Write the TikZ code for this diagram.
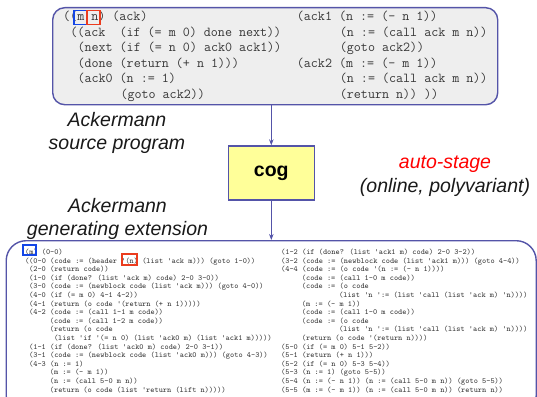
\documentclass[tikz,border=0pt]{standalone}
\usepackage{fontspec}
\newfontfamily\labfont{Liberation Sans}
\usetikzlibrary{arrows.meta}
\definecolor{edge}{RGB}{84,84,168}
\definecolor{srcfill}{RGB}{238,238,238}
\definecolor{codegray}{RGB}{55,55,55}
\definecolor{cogfill}{RGB}{255,255,153}
\definecolor{hiblue}{RGB}{20,70,230}
\definecolor{hired}{RGB}{235,60,30}
\definecolor{labtext}{RGB}{25,25,25}
\tikzset{
  box/.style={draw=edge, line width=1.4pt, inner sep=0pt},
  bigcode/.style={font=\ttfamily\fontsize{13.65}{15}\selectfont, text=codegray, anchor=base west, inner sep=0pt},
  smallcode/.style={font=\ttfamily\fontsize{7.886}{8.6}\selectfont, text=codegray, anchor=base west, inner sep=0pt},
  lab/.style={font=\labfont\itshape\fontsize{19.5}{23.7}\selectfont, text=labtext, align=center},
  arr/.style={draw=edge, line width=0.9pt, -{Stealth[length=6pt,width=4.5pt]}},
  hilite/.style={line width=1.2pt}
}
\begin{document}
\begin{tikzpicture}[x=1pt,y=-1pt]
\useasboundingbox (0,0) rectangle (537,396);
\begin{scope}
\clip (0,0) rectangle (537,396);
% source program box
\node[box, fill=srcfill, rounded corners=12pt, minimum width=445pt, minimum height=97pt, anchor=north west] (src) at (52,7) {};
% generating extension box
\node[box, fill=white, rounded corners=20pt, minimum width=530pt, minimum height=175pt, anchor=north west] (gen) at (5.5,240) {};
\end{scope}
% top code, left column
\def\cwA{7.166}
\foreach \k/\t [count=\i] in {
  0/{((m n) (ack)},
  1/{((ack\ \ (if (= m 0) done next))},
  2/{(next (if (= n 0) ack0 ack1))},
  2/{(done (return (+ n 1)))},
  2/{(ack0 (n := 1)},
  8/{(goto ack2))}}
  {\node[bigcode] (tl\i) at ({63+\k*\cwA},{21+(\i-1)*15.45}) {\t};}
% top code, right column
\foreach \k/\t [count=\i] in {
  0/{(ack1 (n := (- n 1))},
  6/{(n := (call ack m n))},
  6/{(goto ack2))},
  0/{(ack2 (m := (- m 1))},
  6/{(n := (call ack m n))},
  6/{(return n)) ))}}
  {\node[bigcode] (tr\i) at ({296.7+\k*\cwA},{21+(\i-1)*15.45}) {\t};}
% highlight boxes on the parameters
\node[draw=hiblue, hilite, minimum width=13pt, minimum height=14pt, inner sep=0pt] (pm) at (80.5,17.5) {};
\node[draw=hired, hilite, minimum width=13pt, minimum height=14pt, inner sep=0pt] (pn) at (93.5,17.5) {};
% cog
\node[box, fill=cogfill, minimum width=86pt, minimum height=54pt, font=\labfont\bfseries\fontsize{19.5}{22}\selectfont, text=black] (cog) at (271.3,173) {cog};
\draw[arr] (src.south -| cog.north) -- (cog.north);
\draw[arr] (cog.south) -- (cog.south |- gen.north);
% labels
\node[lab] (srclab) at (117,133) {Ackermann\\source program};
\node[lab] (genlab) at (117.5,219) {Ackermann\\generating extension};
\node[lab] (stage) at (445,176) {\textcolor{red}{auto-stage}\\(online, polyvariant)};
% bottom code, left column
\def\cwB{4.14}
\foreach \k/\t [count=\i] in {
  0/{((m) (0-0)},
  1/{((0-0 (code := (header '(n) (list 'ack m))) (goto 1-0))},
  2/{(2-0 (return code))},
  2/{(1-0 (if (done? (list 'ack m) code) 2-0 3-0))},
  2/{(3-0 (code := (newblock code (list 'ack m))) (goto 4-0))},
  2/{(4-0 (if (= m 0) 4-1 4-2))},
  2/{(4-1 (return (o code '(return (+ n 1)))))},
  2/{(4-2 (code := (call 1-1 m code))},
  7/{(code := (call 1-2 m code))},
  7/{(return (o code},
  8/{(list 'if '(= n 0) (list 'ack0 m) (list 'ack1 m)))))},
  2/{(1-1 (if (done? (list 'ack0 m) code) 2-0 3-1))},
  2/{(3-1 (code := (newblock code (list 'ack0 m))) (goto 4-3))},
  2/{(4-3 (n := 1)},
  7/{(m := (- m 1))},
  7/{(n := (call 5-0 m n))},
  7/{(return (o code (list 'return (lift n)))))}}
  {\node[smallcode] (bl\i) at ({20.7+\k*\cwB},{254.5+(\i-1)*8.6}) {\t};}
% bottom code, right column
\foreach \k/\t [count=\i] in {
  2/{(1-2 (if (done? (list 'ack1 m) code) 2-0 3-2))},
  2/{(3-2 (code := (newblock code (list 'ack1 m))) (goto 4-4))},
  2/{(4-4 (code := (o code '(n := (- n 1))))},
  7/{(code := (call 1-0 m code))},
  7/{(code := (o code},
  16/{(list 'n ':= (list 'call (list 'ack m) 'n))))},
  7/{(m := (- m 1))},
  7/{(code := (call 1-0 m code))},
  7/{(code := (o code},
  16/{(list 'n ':= (list 'call (list 'ack m) 'n))))},
  7/{(return (o code '(return n))))},
  2/{(5-0 (if (= m 0) 5-1 5-2))},
  2/{(5-1 (return (+ n 1)))},
  2/{(5-2 (if (= n 0) 5-3 5-4))},
  2/{(5-3 (n := 1) (goto 5-5))},
  2/{(5-4 (n := (- n 1)) (n := (call 5-0 m n)) (goto 5-5))},
  2/{(5-5 (m := (- m 1)) (n := (call 5-0 m n)) (return n))}}
  {\node[smallcode] (br\i) at ({272.7+\k*\cwB},{254.5+(\i-1)*8.6}) {\t};}
% highlight boxes in the generating extension
\node[draw=hiblue, hilite, minimum width=13pt, minimum height=10pt, inner sep=0pt] (gm) at (29.5,250) {};
\node[draw=hired, hilite, minimum width=15pt, minimum height=11pt, inner sep=0pt] (gn) at (129.5,259.5) {};
\end{tikzpicture}
\end{document}
